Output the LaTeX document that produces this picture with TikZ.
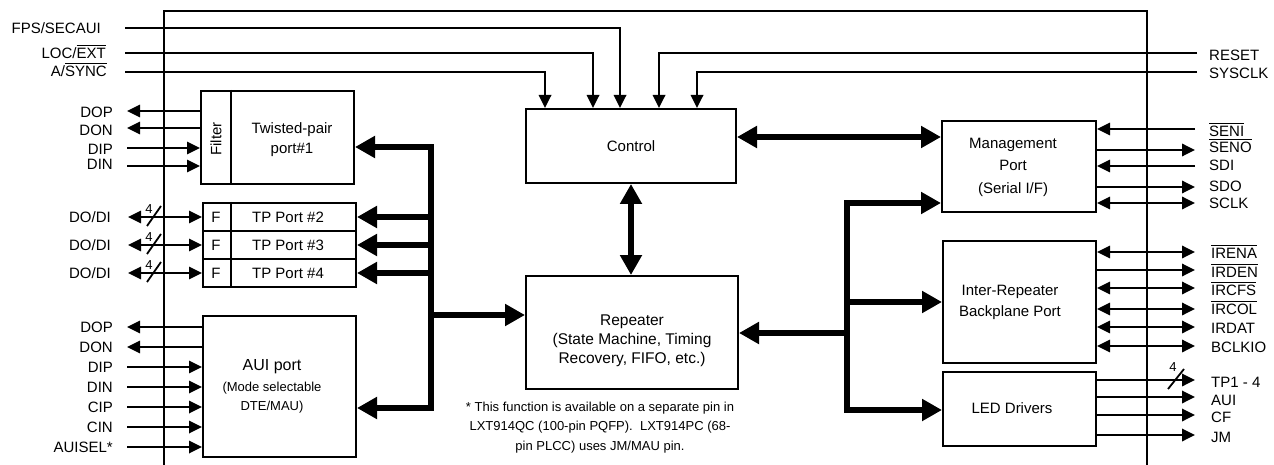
\documentclass[tikz,border=0pt]{standalone}
\usepackage{fontspec}
\setmainfont{Liberation Sans}
\usetikzlibrary{arrows.meta}
\newcommand\myovl[1]{\leavevmode\vbox{\hrule height 1.3pt\kern1.6pt\hbox{#1}}}
\begin{document}
\begin{tikzpicture}[x=1pt,y=-1pt,
  lbl/.style={font=\fontsize{15}{18}\selectfont, inner sep=0pt, text height=10.8pt, text depth=0pt},
  boxtxt/.style={font=\fontsize{15}{20}\selectfont, align=center, inner sep=0pt},
  smalltxt/.style={font=\fontsize{13}{19.5}\selectfont, align=center, inner sep=0pt},
  box/.style={draw, line width=2pt, inner sep=0pt},
  sig/.style={line width=1.8pt},
  sigin/.style={sig, -{Triangle[length=13pt,width=12.5pt]}},
  sigout/.style={sig, {Triangle[length=13pt,width=12.5pt]}-},
  sigboth/.style={sig, {Triangle[length=13pt,width=12.5pt]}-{Triangle[length=13pt,width=12.5pt]}},
  bus/.style={line width=5.5pt},
  busin/.style={bus, -{Triangle[length=20pt,width=21pt]}},
  busboth/.style={bus, {Triangle[length=20pt,width=21pt]}-{Triangle[length=20pt,width=21pt]}},
  slashln/.style={line width=1.8pt},
  numtxt/.style={font=\fontsize{13}{14}\selectfont, inner sep=0pt},
]
\useasboundingbox (0,0) rectangle (1274,465);

% chip outline
\draw[line width=2pt] (164,465) -- (164,11) -- (1147,11) -- (1147,465);

% boxes
\node[box, boxtxt, minimum width=210pt, minimum height=74pt] (ctrl) at (631,146) {Control};
\node[box, minimum width=212pt, minimum height=113pt] (rep) at (632,332.5) {};
\node[boxtxt, font=\fontsize{15.5}{19}\selectfont] (reptxt) at (632,341) {Repeater\\(State Machine, Timing\\Recovery, FIFO, etc.)};

\node[box, minimum width=153pt, minimum height=93pt] (tp1) at (277.5,137.5) {};
\node[boxtxt] (tp1txt) at (292,140) {Twisted-pair\\port\#1};
\node[rotate=90, font=\fontsize{15}{18}\selectfont, inner sep=0pt] (filt) at (216,139) {Filter};
\coordinate (fdiv) at (231,0);
\draw[line width=2pt] (tp1.north -| fdiv) -- (tp1.south -| fdiv);

\node[box, minimum width=153pt, minimum height=28pt] (tp2) at (279.5,217) {};
\node[box, minimum width=153pt, minimum height=28pt] (tp3) at (279.5,245) {};
\node[box, minimum width=153pt, minimum height=28pt] (tp4) at (279.5,273) {};
\draw[line width=2pt] (tp2.north -| fdiv) -- (tp4.south -| fdiv);
\foreach \n/\y in {2/217,3/245,4/273}{
  \node[lbl] (tpf\n) at (216,\y) {F};
  \node[lbl] (tpt\n) at (288,\y) {TP Port \#\n};
}

\node[box, minimum width=153pt, minimum height=141pt] (aui) at (279.5,386.5) {};
\node[boxtxt, font=\fontsize{16}{20}\selectfont] (auit1) at (272,367) {AUI port};
\node[smalltxt, font=\fontsize{13}{19}\selectfont] (auit2) at (272,397.5) {(Mode selectable\\DTE/MAU)};

\node[box, minimum width=154pt, minimum height=91pt] (mgmt) at (1019,166.5) {};
\node[boxtxt, font=\fontsize{15}{22.5}\selectfont] (mgmttxt) at (1013,167) {Management\\Port\\(Serial I/F)};

\node[box, minimum width=153pt, minimum height=122pt] (ir) at (1019.5,302) {};
\node[boxtxt, font=\fontsize{15}{21}\selectfont] (irtxt) at (1010,302.5) {Inter-Repeater\\Backplane Port};

\node[box, minimum width=153pt, minimum height=74pt] (led) at (1019.5,409) {};
\node[boxtxt] (ledtxt) at (1012,408) {LED Drivers};

% footnote
\node[smalltxt] (note) at (600,427.5) {* This function is available on a separate pin in\\LXT914QC (100-pin PQFP).\ \ LXT914PC (68-\\pin PLCC) uses JM/MAU pin.};

% top control signals
\node[lbl, anchor=east] (fpsl) at (101,28) {FPS/SECAUI};
\node[lbl, anchor=east] (locl) at (106,53) {LOC/\myovl{EXT}};
\node[lbl, anchor=east] (asyl) at (107,71) {A/\myovl{SYNC}};
\node[lbl, anchor=west] (rstl) at (1209,55) {RESET};
\node[lbl, anchor=west] (sysl) at (1209,73) {SYSCLK};
\coordinate (fpsc) at (125,28); \coordinate (fpsk) at (620,28);
\coordinate (locc) at (125,53); \coordinate (lock) at (593,53);
\coordinate (asyc) at (125,72); \coordinate (asyk) at (545,72);
\coordinate (rstc) at (1197,53); \coordinate (rstk) at (659,53);
\coordinate (sysc) at (1197,72); \coordinate (sysk) at (697,72);
\draw[sigin] (fpsc) -- (fpsk) -- (fpsk |- ctrl.north);
\draw[sigin] (locc) -- (lock) -- (lock |- ctrl.north);
\draw[sigin] (asyc) -- (asyk) -- (asyk |- ctrl.north);
\draw[sigin] (rstc) -- (rstk) -- (rstk |- ctrl.north);
\draw[sigin] (sysc) -- (sysk) -- (sysk |- ctrl.north);

% TP1 signals
\foreach \y/\ly/\t/\s in {111/112/DOP/sigout,128/130/DON/sigout,148/149/DIP/sigin,166/164/DIN/sigin}{
  \node[lbl,anchor=east] (tpl\y) at (113,\ly) {\t};
  \coordinate (tpc\y) at (127,\y);
  \draw[\s] (tpc\y) -- (tpc\y -| tp1.west);
}
% TP2-4 signals
\foreach \n/\y in {2/217,3/245,4/273}{
  \node[lbl,anchor=east] (dodl\n) at (111,\y) {DO/DI};
  \coordinate (dodc\n) at (128,\y);
  \draw[sigboth] (dodc\n) -- (dodc\n -| tp\n.west);
  \draw[slashln] (147,\y+9) -- (161,\y-11);
  \node[numtxt] (dodn\n) at (149,\y-8) {4};
}
% AUI signals
\foreach \y/\t/\s in {327/DOP/sigout,347/DON/sigout,367/DIP/sigin,387/DIN/sigin,407/CIP/sigin,427/CIN/sigin,447/AUISEL*/sigin}{
  \node[lbl,anchor=east] (auil\y) at (113,\y) {\t};
  \coordinate (auic\y) at (127,\y);
  \draw[\s] (auic\y) -- (auic\y -| aui.west);
}
% management signals
\foreach \y/\ly/\t/\s in {129/131/\myovl{SENI}/sigin,150/147/\myovl{SENO}/sigout,166/165/SDI/sigin,187/186/SDO/sigout,203/203/SCLK/sigboth}{
  \node[lbl,anchor=west] (mgl\y) at (1209,\ly) {\t};
  \coordinate (mgc\y) at (1195,\y);
  \draw[\s] (mgc\y) -- (mgc\y -| mgmt.east);
}
% inter-repeater signals
\foreach \y/\ly/\t/\s in {252/253/\myovl{IRENA}/sigboth,270/272/\myovl{IRDEN}/sigout,288/290/\myovl{IRCFS}/sigboth,309/309/\myovl{IRCOL}/sigboth,327/328/IRDAT/sigboth,346/347/BCLKIO/sigboth}{
  \node[lbl,anchor=west] (irl\y) at (1211,\ly) {\t};
  \coordinate (irc\y) at (1195,\y);
  \draw[\s] (irc\y) -- (irc\y -| ir.east);
}
% LED signals
\foreach \y/\ly/\t in {380/382/TP1 - 4,397/400/AUI,415/417/CF,435/437/JM}{
  \node[lbl,anchor=west] (ledl\y) at (1211,\ly) {\t};
  \coordinate (ledc\y) at (1195,\y);
  \draw[sigout] (ledc\y) -- (ledc\y -| led.east);
}
\draw[slashln] (1168,389) -- (1184,369);
\node[numtxt] (ledn) at (1173,367) {4};

% left bus
\coordinate (lb1) at (431,147); \coordinate (lb2) at (431,408); \coordinate (lb3) at (431,315);
\draw[busboth] (lb1 -| tp1.east) -- (lb1) -- (lb2) -- (lb2 -| aui.east);
\foreach \n in {2,3,4} \draw[busin] (lb1 |- tp\n.east) -- (tp\n.east);
\draw[busin] (lb3) -- (lb3 -| rep.west);

% right bus
\coordinate (rb1) at (847,203); \coordinate (rb2) at (847,410); \coordinate (rb3) at (847,333);
\draw[busboth] (rb1 -| mgmt.west) -- (rb1) -- (rb2) -- (rb2 -| led.west);
\draw[busin] (rb1 |- ir.west) -- (ir.west);
\draw[busin] (rb3) -- (rb3 -| rep.east);

% control links
\coordinate (cm) at (840,137);
\draw[busboth] (cm -| ctrl.east) -- (cm -| mgmt.west);
\draw[busboth] (ctrl.south) -- (ctrl.south |- rep.north);
\end{tikzpicture}
\end{document}
